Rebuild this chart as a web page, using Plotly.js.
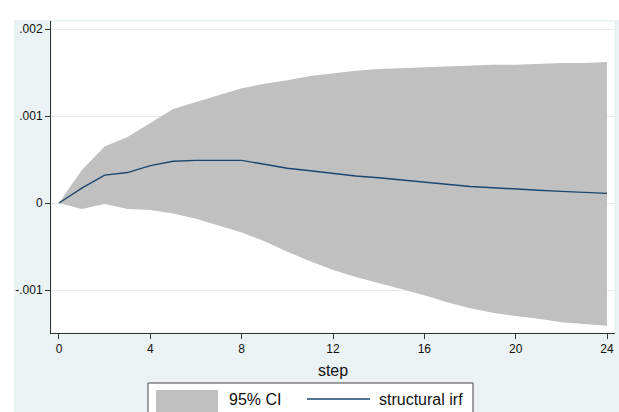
<!DOCTYPE html>
<html>
<head>
<meta charset="utf-8">
<script src="https://cdn.plot.ly/plotly-3.0.1.min.js"></script>
<style>html,body{margin:0;padding:0;background:#fff;}#chart{width:619px;height:412px;}</style>
</head>
<body>
<div id="chart"></div>
<script>
// ---- data ----
var steps = [0,1,2,3,4,5,6,7,8,9,10,11,12,13,14,15,16,17,18,19,20,21,22,23,24];
var irf = [0,0.00017,0.00032,0.00035,0.00043,0.00048,0.00049,0.00049,0.00049,0.000445,0.0004,0.00037,0.00034,0.00031,0.00029,0.000265,0.00024,0.000215,0.00019,0.000176,0.000157,0.000146,0.000134,0.000123,0.000111];
var ciUpper = [0,0.00038,0.00065,0.00076,0.00092,0.00108,0.00116,0.00124,0.00132,0.00137,0.00141,0.00146,0.00149,0.00152,0.00154,0.00155,0.00156,0.00157,0.00158,0.00159,0.00159,0.0016,0.00161,0.00161,0.00162];
var ciLower = [0,-0.00007,-0.00001,-0.00007,-0.00008,-0.00012,-0.00018,-0.00026,-0.00034,-0.00044,-0.00056,-0.00067,-0.00077,-0.00085,-0.00092,-0.00099,-0.00106,-0.00114,-0.00121,-0.00126,-0.0013,-0.00133,-0.00137,-0.00139,-0.00141];
var xTicks = [0,4,8,12,16,20,24];
var yTickVals = [-0.001,0,0.001,0.002];
var yTickText = ["-.001","0",".001",".002"];
var xTitle = "step";
var legendLabels = ["95% CI","structural irf"];

// ---- layout helpers (pixel -> paper) ----
var W=619,H=412,L=51,R=4,T=21,B=79;
var pw=W-L-R, ph=H-T-B;
function px(x){return (x-L)/pw;}
function py(y){return (H-B-y)/ph;}

var bandColor='#c0c0c0', lineColor='#1a476f', bg='#eaf2f3';

var traces = [
  {x:steps,y:ciLower,type:'scatter',mode:'lines',line:{width:0,color:bandColor},hoverinfo:'skip',showlegend:false},
  {x:steps,y:ciUpper,type:'scatter',mode:'lines',fill:'tonexty',fillcolor:bandColor,line:{width:0,color:bandColor},name:legendLabels[0],showlegend:false},
  {x:steps,y:irf,type:'scatter',mode:'lines',line:{width:1.4,color:lineColor},name:legendLabels[1],showlegend:false}
];

var font='"Liberation Sans", Arial, sans-serif';
var layout = {
  width:W,height:H,
  margin:{l:L,r:R,t:T,b:B,pad:0},
  paper_bgcolor:bg, plot_bgcolor:'#ffffff',
  font:{family:font,color:'#111',size:12},
  showlegend:false,
  xaxis:{
    range:[-0.35,24.35],tickmode:'array',tickvals:xTicks,ticks:'outside',ticklen:5,tickcolor:'#333',
    showline:true,linecolor:'#333',linewidth:1,showgrid:false,zeroline:false,
    tickfont:{size:12,color:'#111'},
    title:{text:xTitle,font:{size:16,color:'#111'},standoff:9}
  },
  yaxis:{
    range:[-0.001494,0.002092],tickmode:'array',tickvals:yTickVals,ticktext:yTickText,ticks:'outside',ticklen:5,tickcolor:'#333',
    showline:true,linecolor:'#333',linewidth:1,showgrid:true,gridcolor:'#e4eef0',gridwidth:1,zeroline:false,
    tickfont:{size:12,color:'#111'}
  },
  shapes:[
    // white margins of the cropped image
    {type:'rect',xref:'paper',yref:'paper',x0:px(-2),x1:px(W+2),y0:py(20),y1:py(-2),fillcolor:'#ffffff',line:{width:0},layer:'below'},
    {type:'rect',xref:'paper',yref:'paper',x0:px(-2),x1:px(14),y0:py(H+2),y1:py(-2),fillcolor:'#ffffff',line:{width:0},layer:'below'},
    // plot region outline
    {type:'rect',xref:'paper',yref:'paper',x0:0,x1:1,y0:0,y1:1,line:{width:1,color:'#e4eef0'},fillcolor:'rgba(0,0,0,0)',layer:'below'},
    // legend box
    {type:'rect',xref:'paper',yref:'paper',x0:px(148),x1:px(473),y0:py(416),y1:py(383),fillcolor:'#ffffff',line:{width:1,color:'#444'}},
    {type:'rect',xref:'paper',yref:'paper',x0:px(156),x1:px(218),y0:py(414),y1:py(390),fillcolor:bandColor,line:{width:0}},
    {type:'line',xref:'paper',yref:'paper',x0:px(307),x1:px(370),y0:py(399),y1:py(399),line:{width:1.4,color:lineColor}}
  ],
  annotations:[
    {xref:'paper',yref:'paper',x:px(227),y:py(400),xanchor:'left',yanchor:'middle',text:legendLabels[0],showarrow:false,font:{size:16,color:'#111',family:font}},
    {xref:'paper',yref:'paper',x:px(377),y:py(400),xanchor:'left',yanchor:'middle',text:legendLabels[1],showarrow:false,font:{size:16,color:'#111',family:font}}
  ]
};

Plotly.newPlot('chart',traces,layout,{displayModeBar:false,staticPlot:true});
</script>
</body>
</html>
